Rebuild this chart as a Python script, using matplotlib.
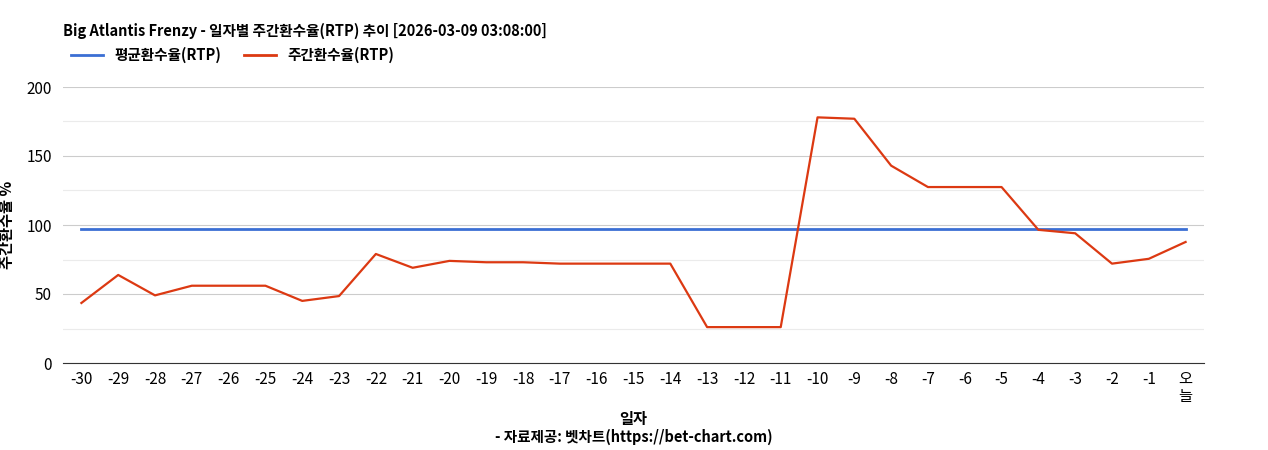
import matplotlib
matplotlib.use("Agg")
import matplotlib.pyplot as plt
from matplotlib.lines import Line2D

plt.rcParams['font.family'] = ['Noto Sans CJK KR', 'DejaVu Sans']

labels = [str(i) for i in range(-30, 0)] + ["오\n늘"]
weekly = [43.5, 63.8, 49, 56, 56, 56, 45, 48.5, 79, 69, 74, 73, 73, 72, 72, 72, 72,
          26, 26, 26, 178, 177, 143, 127.5, 127.5, 127.5, 96.5, 94, 72, 75.5, 87.7]
avg = [97] * len(labels)

fig = plt.figure(figsize=(12.68, 4.5), dpi=100)
ax = fig.add_axes([63/1268, 1-363/450, (1204-63)/1268, (363-87)/450])
x = list(range(len(labels)))
ax.plot(x, avg, color="#3b6fd4", lw=2)
ax.plot(x, weekly, color="#dc3912", lw=1.6)
ax.set_xlim(-0.5, len(labels)-0.5)
ax.set_ylim(0, 200)
ax.set_yticks([0, 50, 100, 150, 200])
ax.set_yticks([25, 75, 125, 175], minor=True)
ax.grid(axis='y', which='major', color='#cccccc', lw=0.8)
ax.grid(axis='y', which='minor', color='#ebebeb', lw=0.8)
ax.tick_params(axis='y', which='both', length=0, labelsize=11)
ax.set_xticks(x)
ax.set_xticklabels(labels, fontsize=11, linespacing=1.0)
ax.tick_params(axis='x', length=0, pad=6)
ax.tick_params(axis='y', pad=8)
for s in ['top', 'right', 'left']:
    ax.spines[s].set_visible(False)
ax.spines['bottom'].set_color('#333333')
ax.set_axisbelow(True)
ax.set_ylabel("주간환수율 %", fontsize=11, fontweight='bold', labelpad=8)
ax.set_xlabel("일자", fontsize=11, fontweight='bold', labelpad=4)

fig.text(63/1268, 1-31/450, "Big Atlantis Frenzy - 일자별 주간환수율(RTP) 추이 [2026-03-09 03:08:00]",
         fontsize=10.5, fontweight='bold', va='center')
fig.text(0.5, 1-437/450, "- 자료제공: 벳차트(https://bet-chart.com)", fontsize=10.5,
         fontweight='bold', ha='center', va='center')
handles = [Line2D([], [], color="#3b6fd4", lw=2), Line2D([], [], color="#dc3912", lw=2)]
fig.legend(handles, ["평균환수율(RTP)", "주간환수율(RTP)"], loc='center left',
           bbox_to_anchor=(58/1268, 1-55/450), ncol=2, frameon=False,
           prop={'size': 10.5, 'weight': 'bold'}, handlelength=2.2, columnspacing=1.5)
fig.savefig("out.png", dpi=100)
